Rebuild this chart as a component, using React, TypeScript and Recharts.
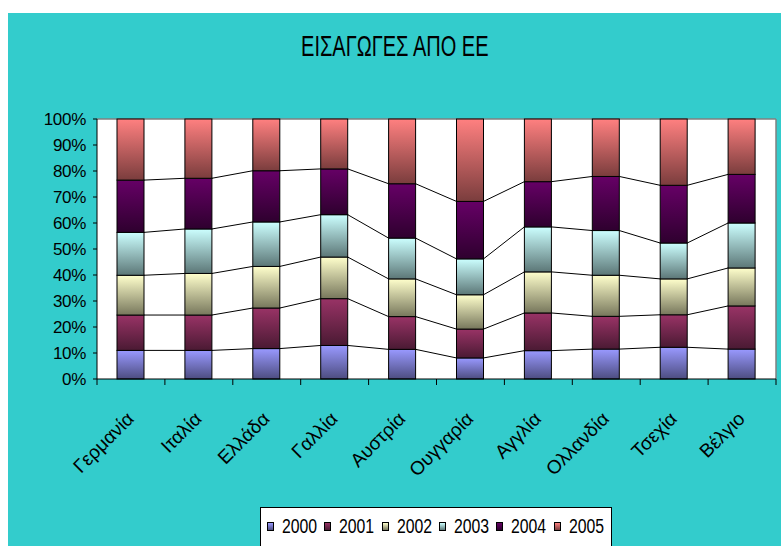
import React from 'react';
import { BarChart, Bar, XAxis, YAxis, CartesianGrid } from 'recharts';

const categories = ['Γερμανία', 'Ιταλία', 'Ελλάδα', 'Γαλλία', 'Αυστρία', 'Ουγγαρία', 'Αγγλία', 'Ολλανδία', 'Τσεχία', 'Βέλγιο'];
const years = ['2000', '2001', '2002', '2003', '2004', '2005'];

const y2000 = [11.0, 11.0, 11.7, 12.9, 11.4, 8.1, 10.9, 11.5, 12.2, 11.5];
const y2001 = [13.6, 13.6, 15.6, 18.0, 12.6, 11.1, 14.5, 12.6, 12.5, 16.6];
const y2002 = [15.3, 16.0, 16.0, 16.0, 14.5, 13.2, 15.8, 15.8, 13.8, 14.6];
const y2003 = [16.5, 17.1, 17.1, 16.3, 15.7, 13.8, 17.3, 17.2, 13.8, 17.3];
const y2004 = [20.1, 19.5, 19.7, 17.6, 20.9, 22.1, 17.4, 20.8, 22.2, 18.7];
const y2005 = [23.5, 22.8, 19.9, 19.2, 24.9, 31.7, 24.1, 22.1, 25.5, 21.3];

const yTicks = [0, 0.1, 0.2, 0.3, 0.4, 0.5, 0.6, 0.7, 0.8, 0.9, 1];

const topColors = ['#9999FF', '#993366', '#FFFFCC', '#CCFFFF', '#660066', '#FF8080'];
const bottomColors = ['#4D4D80', '#4A1A33', '#77775C', '#5C7777', '#2E002E', '#7A3D3D'];

const seriesValues = [y2000, y2001, y2002, y2003, y2004, y2005];

const data = categories.map((name, i) => {
  const row: any = { name };
  years.forEach((yr, s) => {
    row[yr] = seriesValues[s][i];
  });
  return row;
});

// share of 100% reached at the top of each series, per country
const cumulative = years.map((_, s) =>
  categories.map((_, i) => {
    let total = 0;
    let upTo = 0;
    seriesValues.forEach((vals, k) => {
      total += vals[i];
      if (k <= s) upTo += vals[i];
    });
    return upTo / total;
  })
);

const W = 773;
const H = 533;
const MARGIN = { top: 106, right: 5, left: 29, bottom: 67 };
const Y_AXIS_W = 60;
const STEP = (W - MARGIN.left - Y_AXIS_W - MARGIN.right) / categories.length;
const FONT = '"Liberation Sans", Arial, sans-serif';

function makeShape(s: number) {
  return (props: any) => {
    const { x, y, width, height, index, background } = props;
    let connector = null;
    if (s < years.length - 1 && index + 1 < categories.length) {
      const prev = s > 0 ? cumulative[s - 1][index] : 0;
      let top = 0;
      let plotH = 0;
      if (background && background.height) {
        top = background.y;
        plotH = background.height;
      } else {
        plotH = height / (cumulative[s][index] - prev);
        top = y - (1 - cumulative[s][index]) * plotH;
      }
      const ny = top + plotH * (1 - cumulative[s][index + 1]);
      connector = <line x1={x + width} y1={y} x2={x + STEP} y2={ny} stroke="#000" strokeWidth={1} />;
    }
    return (
      <g>
        <rect x={x} y={y} width={width} height={height} fill={`url(#grad${s})`} stroke="#000" strokeWidth={1} />
        {connector}
      </g>
    );
  };
}

function CategoryTick(props: any) {
  const { x, y, payload, index } = props;
  const tx = x + 4;
  const ty = y + 35;
  return (
    <g>
      {index === 0 && <line x1={x - STEP / 2} y1={y - 6} x2={x - STEP / 2} y2={y} stroke="#000" />}
      <line x1={x + STEP / 2} y1={y - 6} x2={x + STEP / 2} y2={y} stroke="#000" />
      <text
        x={tx}
        y={ty}
        transform={`rotate(-45 ${tx} ${ty})`}
        textAnchor="end"
        fontSize={19}
        fontFamily={FONT}
        fill="#000"
      >
        {payload.value}
      </text>
    </g>
  );
}

export default function App() {
  return (
    <>
      <style>{`html,body{margin:0;padding:0;overflow:hidden;background:#fff}`}</style>
      <div
        style={{
          position: 'absolute',
          left: 8,
          top: 13,
          width: W,
          height: H,
          background: '#33CCCC',
          overflow: 'hidden',
          fontFamily: FONT,
        }}
      >
        <div
          style={{
            position: 'absolute',
            top: 19,
            left: 0,
            width: W,
            textAlign: 'center',
            fontSize: 29,
            lineHeight: 1,
            color: '#000',
          }}
        >
          <span style={{ display: 'inline-block', transform: 'scaleX(0.69)', whiteSpace: 'nowrap' }}>
            ΕΙΣΑΓΩΓΕΣ ΑΠΟ ΕΕ
          </span>
        </div>

        <BarChart width={W} height={H} data={data} margin={MARGIN} stackOffset="expand" barSize={27}>
          <defs>
            {years.map((yr, s) => (
              <linearGradient key={yr} id={`grad${s}`} x1="0" y1="0" x2="0" y2="1">
                <stop offset="0%" stopColor={topColors[s]} />
                <stop offset="100%" stopColor={bottomColors[s]} />
              </linearGradient>
            ))}
          </defs>
          <CartesianGrid
            fill="#fff"
            stroke="#808080"
            strokeWidth={1.5}
            horizontalCoordinatesGenerator={({ offset }: any) => [offset.top]}
            verticalCoordinatesGenerator={({ offset }: any) => [offset.left + offset.width]}
          />
          <XAxis
            dataKey="name"
            interval={0}
            height={100}
            tickSize={6}
            tickMargin={0}
            tickLine={false}
            axisLine={{ stroke: '#000' }}
            tick={<CategoryTick />}
          />
          <YAxis
            width={Y_AXIS_W}
            domain={[0, 1]}
            ticks={yTicks}
            tickFormatter={(v: number) => `${Math.round(v * 100)}%`}
            tickSize={4}
            tickMargin={7}
            axisLine={{ stroke: '#000' }}
            tickLine={{ stroke: '#000' }}
            tick={{ fill: '#000', fontSize: 17, fontFamily: FONT, letterSpacing: -0.3 }}
          />
          {years.map((yr, s) => (
            <Bar key={yr} dataKey={yr} stackId="a" shape={makeShape(s)} isAnimationActive={false} />
          ))}
        </BarChart>

        <div
          style={{
            position: 'absolute',
            left: 252,
            top: 494,
            width: 352,
            height: 60,
            background: '#fff',
            border: '1px solid #000',
            boxSizing: 'border-box',
          }}
        >
          {years.map((yr, s) => (
            <div key={yr} style={{ position: 'absolute', left: 6 + s * 57.3, top: 0, height: 40, width: 56 }}>
              <span
                style={{
                  position: 'absolute',
                  left: 0,
                  top: 14,
                  width: 7,
                  height: 9,
                  boxSizing: 'border-box',
                  border: '1px solid #000',
                  background: `linear-gradient(${topColors[s]}, ${bottomColors[s]})`,
                }}
              />
              <span
                style={{
                  position: 'absolute',
                  left: 15,
                  top: 8,
                  fontSize: 20,
                  lineHeight: '20px',
                  color: '#000',
                  whiteSpace: 'nowrap',
                  transform: 'scaleX(0.79)',
                  transformOrigin: 'left center',
                }}
              >
                {yr}
              </span>
            </div>
          ))}
        </div>
      </div>
    </>
  );
}
